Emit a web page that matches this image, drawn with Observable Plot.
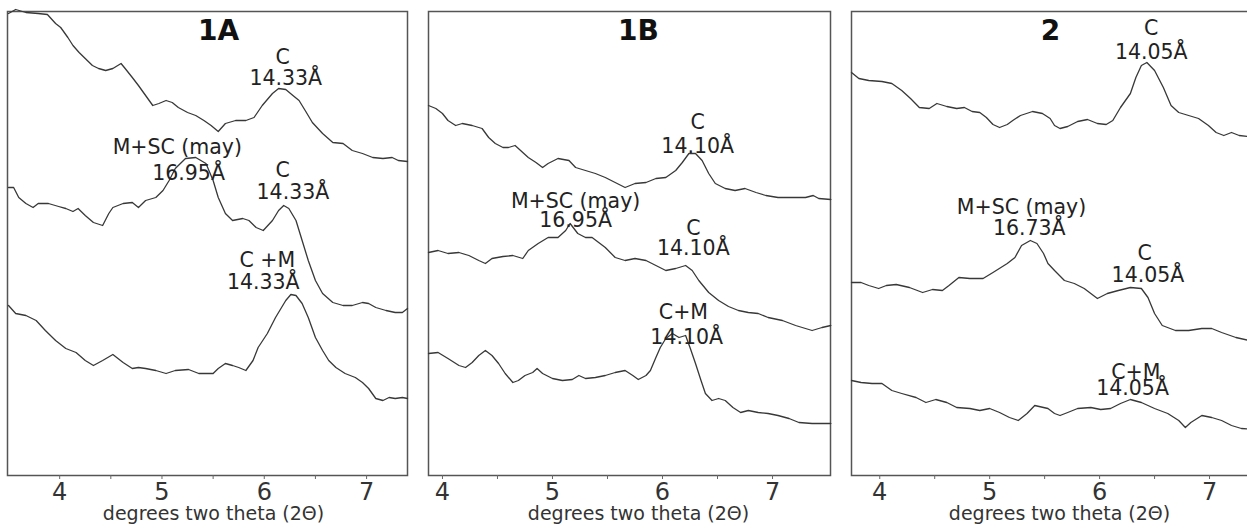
<!DOCTYPE html>
<html><head><meta charset="utf-8">
<script src="https://cdn.jsdelivr.net/npm/d3@7"></script>
<script src="https://cdn.jsdelivr.net/npm/@observablehq/plot@0.6"></script>
<style>
body{margin:0;background:#fff;}
#wrap{position:relative;width:1247px;height:526px;overflow:hidden;background:#fff;}
.panel{position:absolute;top:0;}
</style></head><body><div id="wrap"></div>
<script>
// x = degrees two theta, y = relative intensity (arbitrary units)
const axisTitle = "degrees two theta (2Θ)";
const tickValues = [4, 4.5, 5, 5.5, 6, 6.5, 7];
const panelTitles = ["1A", "1B", "2"];

// ---- Panel 1A ----
const trace1A_top = [[3.50,462],[3.57,466],[3.67,463],[3.79,462],[3.88,461],[3.96,452],[4.01,448],[4.08,438],[4.13,430],[4.19,423],[4.25,417],[4.32,410],[4.38,407],[4.45,405],[4.52,407],[4.60,412],[4.64,407],[4.71,398],[4.77,390],[4.84,380],[4.91,370],[4.97,372],[5.04,375],[5.10,373],[5.16,368],[5.25,363],[5.33,360],[5.41,355],[5.48,350],[5.55,344],[5.62,352],[5.72,355],[5.82,355],[5.90,358],[5.98,370],[6.08,382],[6.14,387],[6.21,386],[6.28,380],[6.34,375],[6.40,365],[6.47,353],[6.57,342],[6.67,333],[6.77,332],[6.86,325],[6.96,322],[7.06,318],[7.16,317],[7.25,318],[7.31,315],[7.40,314]];
const trace1A_mid = [[3.50,288],[3.55,288],[3.60,278],[3.67,272],[3.74,268],[3.79,272],[3.89,272],[3.99,269],[4.06,267],[4.13,264],[4.18,267],[4.25,260],[4.33,253],[4.42,250],[4.48,262],[4.52,268],[4.62,272],[4.71,273],[4.77,268],[4.84,275],[4.94,278],[5.01,285],[5.07,295],[5.13,307],[5.23,317],[5.33,318],[5.43,312],[5.50,295],[5.55,278],[5.62,262],[5.69,255],[5.79,257],[5.85,255],[5.92,248],[5.99,245],[6.08,255],[6.14,265],[6.19,270],[6.24,267],[6.31,255],[6.37,235],[6.43,215],[6.50,195],[6.57,182],[6.67,173],[6.77,170],[6.86,170],[6.96,173],[7.02,172],[7.09,168],[7.19,165],[7.28,163],[7.35,163],[7.40,167]];
const trace1A_bot = [[3.50,170],[3.57,162],[3.67,160],[3.77,155],[3.86,145],[3.96,135],[4.06,127],[4.16,123],[4.25,115],[4.33,110],[4.42,115],[4.52,121],[4.62,113],[4.71,107],[4.77,108],[4.84,107],[4.94,105],[5.04,102],[5.13,105],[5.26,106],[5.36,102],[5.43,102],[5.50,102],[5.55,107],[5.62,112],[5.69,110],[5.75,108],[5.82,105],[5.89,115],[5.94,128],[6.03,142],[6.11,158],[6.21,175],[6.26,181],[6.31,180],[6.37,172],[6.43,158],[6.50,138],[6.57,125],[6.63,115],[6.70,108],[6.79,102],[6.89,98],[6.96,93],[7.02,87],[7.09,77],[7.16,75],[7.22,78],[7.28,77],[7.35,78],[7.40,77]];
const labels1A = ["C","14.33Å","M+SC (may)","16.95Å","C","14.33Å","C +M","14.33Å"];
const labelX1A = [6.18,6.21,5.15,5.26,6.18,6.28,6.03,5.99];
const labelY1A = [418,397,328,302,305,283,215,193];

// ---- Panel 1B ----
const trace1B_top = [[3.873,370],[3.94,367],[4.00,362],[4.05,355],[4.12,350],[4.18,352],[4.27,350],[4.36,347],[4.42,338],[4.48,332],[4.55,328],[4.60,328],[4.66,330],[4.73,323],[4.78,318],[4.85,313],[4.91,308],[4.96,312],[5.05,317],[5.15,315],[5.21,308],[5.30,305],[5.39,302],[5.48,298],[5.57,293],[5.66,288],[5.75,292],[5.85,293],[5.94,297],[6.03,298],[6.12,305],[6.18,313],[6.24,322],[6.30,322],[6.36,315],[6.42,302],[6.48,292],[6.57,287],[6.66,285],[6.75,287],[6.85,283],[6.94,280],[7.05,278],[7.18,278],[7.30,278],[7.37,280],[7.42,277],[7.53,276]];
const trace1B_mid = [[3.873,223],[3.96,225],[4.05,222],[4.15,223],[4.24,220],[4.33,215],[4.39,212],[4.45,217],[4.55,219],[4.64,220],[4.73,217],[4.78,225],[4.87,232],[4.96,238],[5.05,238],[5.12,245],[5.16,252],[5.23,242],[5.30,238],[5.36,238],[5.42,233],[5.48,228],[5.57,218],[5.66,215],[5.75,217],[5.85,215],[5.94,210],[6.03,205],[6.12,207],[6.21,210],[6.27,205],[6.33,195],[6.42,183],[6.51,175],[6.60,169],[6.69,165],[6.78,163],[6.87,162],[6.96,158],[7.09,155],[7.21,150],[7.30,147],[7.36,145],[7.45,148],[7.53,150]];
const trace1B_bot = [[3.873,122],[3.96,123],[4.05,117],[4.15,110],[4.21,108],[4.27,113],[4.33,120],[4.39,125],[4.45,120],[4.51,112],[4.57,102],[4.64,93],[4.69,95],[4.75,100],[4.82,103],[4.86,107],[4.91,102],[5.00,97],[5.09,95],[5.18,96],[5.24,100],[5.30,97],[5.39,98],[5.48,100],[5.57,103],[5.66,105],[5.73,100],[5.78,96],[5.85,100],[5.89,105],[5.94,118],[5.98,128],[6.03,137],[6.09,142],[6.15,138],[6.21,140],[6.25,128],[6.30,112],[6.35,95],[6.39,82],[6.45,75],[6.51,77],[6.57,75],[6.64,68],[6.71,63],[6.78,65],[6.87,63],[6.96,62],[7.05,60],[7.15,57],[7.24,53],[7.36,52],[7.53,52]];
const labels1B = ["C","14.10Å","M+SC (may)","16.95Å","C","14.10Å","C+M","14.10Å"];
const labelX1B = [6.32,6.32,5.21,5.21,6.28,6.28,6.19,6.22];
const labelY1B = [353,329,274,255,247,227,163,138];

// ---- Panel 2 ----
const trace2_top = [[3.743,403],[3.81,397],[3.90,395],[4.02,394],[4.11,392],[4.20,385],[4.28,377],[4.36,368],[4.45,367],[4.52,372],[4.61,369],[4.70,367],[4.77,368],[4.84,364],[4.91,363],[4.97,358],[5.03,351],[5.09,348],[5.16,351],[5.21,355],[5.28,360],[5.39,364],[5.48,362],[5.55,357],[5.59,350],[5.64,347],[5.71,349],[5.80,354],[5.89,356],[5.98,352],[6.06,351],[6.12,355],[6.19,368],[6.28,382],[6.33,398],[6.38,410],[6.43,413],[6.50,405],[6.58,388],[6.65,370],[6.72,363],[6.81,360],[6.90,357],[6.99,350],[7.06,343],[7.13,340],[7.20,343],[7.27,340],[7.36,339],[7.40,338]];
const trace2_mid = [[3.743,193],[3.83,193],[3.90,190],[3.99,187],[4.06,190],[4.15,191],[4.27,188],[4.39,183],[4.48,186],[4.57,185],[4.63,190],[4.72,198],[4.82,197],[4.94,197],[5.03,203],[5.16,212],[5.23,218],[5.29,230],[5.37,235],[5.43,232],[5.49,222],[5.53,212],[5.59,205],[5.68,195],[5.77,192],[5.86,187],[5.92,182],[5.98,177],[6.07,182],[6.17,185],[6.28,188],[6.38,187],[6.44,178],[6.50,162],[6.57,150],[6.69,145],[6.81,145],[6.93,147],[7.02,147],[7.11,143],[7.24,138],[7.36,135],[7.40,134]];
const trace2_bot = [[3.743,95],[3.83,93],[3.93,92],[4.02,92],[4.11,85],[4.20,82],[4.33,78],[4.42,73],[4.51,76],[4.61,73],[4.70,68],[4.82,67],[4.91,65],[5.00,67],[5.09,63],[5.18,58],[5.26,55],[5.34,62],[5.41,70],[5.49,68],[5.53,67],[5.59,62],[5.64,60],[5.71,63],[5.80,67],[5.92,68],[6.01,66],[6.10,67],[6.19,72],[6.28,76],[6.38,73],[6.50,67],[6.62,62],[6.72,55],[6.78,48],[6.83,53],[6.93,60],[7.02,58],[7.11,55],[7.20,50],[7.29,47],[7.40,46]];
const labels2 = ["C","14.05Å","M+SC (may)","16.73Å","C","14.05Å","C+M","14.05Å"];
const labelX2 = [6.47,6.47,5.29,5.36,6.41,6.44,6.33,6.30];
const labelY2 = [447,423,268,247,222,200,103,87];

function makePanel(cfg) {
  const ann = cfg.labels.map((s, i) => ({s, x: cfg.lx[i], y: cfg.ly[i]}));
  const lines = cfg.traces.map(t => Plot.line(t, {x: d => d[0], y: d => d[1], stroke: "#383838", strokeWidth: 1.3}));
  const svg = Plot.plot({
    width: cfg.width, height: 526,
    marginLeft: cfg.marginLeft, marginRight: cfg.marginRight, marginTop: 11, marginBottom: 51,
    x: {domain: cfg.domain},
    y: {domain: [0, 464], axis: null},
    style: {fontFamily: "'DejaVu Sans', Verdana, sans-serif", background: "transparent", color: "#333", overflow: "visible"},
    marks: [
      Plot.frame({stroke: "#555", strokeWidth: 1.5}),
      Plot.axisX({ticks: tickValues, tickFormat: d => Number.isInteger(d) ? String(d) : "", tickSize: 4, tickPadding: 3, fontSize: 24, label: null, stroke: "#666", fill: "#333"}),
      ...lines,
      Plot.text(ann, {x: "x", y: "y", text: "s", fontSize: 20.5, fill: "#222", lineAnchor: "middle"}),
      Plot.text([cfg.title], {frameAnchor: "top", lineAnchor: "middle", dx: cfg.titleDx, dy: 20, fontSize: 28, fontWeight: "bold", fill: "#111"}),
      Plot.text([axisTitle], {frameAnchor: "bottom", lineAnchor: "middle", dx: cfg.axisDx, dy: 38, fontSize: 19, fill: "#333"})
    ]
  });
  svg.classList.add("panel");
  svg.style.left = cfg.left + "px";
  document.getElementById("wrap").appendChild(svg);
}

makePanel({left: 0, width: 410, marginLeft: 7, marginRight: 3, domain: [3.49, 7.40],
  traces: [trace1A_top, trace1A_mid, trace1A_bot], labels: labels1A, lx: labelX1A, ly: labelY1A,
  title: panelTitles[0], titleDx: 11, axisDx: 6});
makePanel({left: 420, width: 413, marginLeft: 8, marginRight: 3, domain: [3.873, 7.527],
  traces: [trace1B_top, trace1B_mid, trace1B_bot], labels: labels1B, lx: labelX1B, ly: labelY1B,
  title: panelTitles[1], titleDx: 9, axisDx: 9});
makePanel({left: 840, width: 413, marginLeft: 11, marginRight: 0, domain: [3.743, 7.40],
  traces: [trace2_top, trace2_mid, trace2_bot], labels: labels2, lx: labelX2, ly: labelY2,
  title: panelTitles[2], titleDx: -2, axisDx: 7});
</script></body></html>
